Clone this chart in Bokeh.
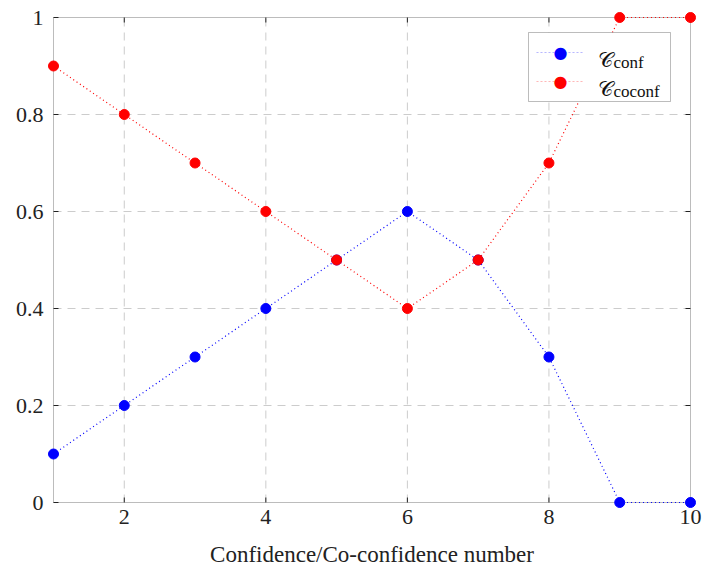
from bokeh.plotting import figure
from bokeh.models import (FixedTicker, CustomJSTickFormatter, Label,
                          BoxAnnotation, Range1d, ColumnDataSource)
from bokeh.embed import file_html
from bokeh.resources import INLINE

x = [1, 2, 3, 4, 5, 6, 7, 8, 9, 10]
c_conf = [0.1, 0.2, 0.3, 0.4, 0.5, 0.6, 0.5, 0.3, 0.0, 0.0]
c_coconf = [0.9, 0.8, 0.7, 0.6, 0.5, 0.4, 0.5, 0.7, 1.0, 1.0]
x_ticks = [2, 4, 6, 8, 10]
y_ticks = [0, 0.2, 0.4, 0.6, 0.8, 1.0]
x_label = "Confidence/Co-confidence number"
series = [("blue", "conf"), ("red", "coconf")]
x_lim = (1, 10)
y_lim = (0, 1)

FONT = "Liberation Serif"
TXT = "#222222"

# axis box in canvas pixels: x 53..690, y 17..502 ; frame padded by PAD so markers are not clipped
PAD = 6
BOX_W, BOX_H = 637, 485
ux = (x_lim[1] - x_lim[0]) / BOX_W   # data units per pixel
uy = (y_lim[1] - y_lim[0]) / BOX_H
TICK = 5

p = figure(width=702, height=571, output_backend="svg", toolbar_location=None,
           x_range=Range1d(x_lim[0] - PAD * ux, x_lim[1] + PAD * ux),
           y_range=Range1d(y_lim[0] - PAD * uy, y_lim[1] + PAD * uy),
           min_border_left=53 - PAD, min_border_right=12 - PAD,
           min_border_top=17 - PAD, min_border_bottom=69 - PAD)
p.outline_line_color = None
p.xgrid.visible = False
p.ygrid.visible = False

fmt = CustomJSTickFormatter(code="return String(+tick.toFixed(2));")

for ax, ticks in [(p.xaxis[0], x_ticks), (p.yaxis[0], y_ticks)]:
    ax.ticker = FixedTicker(ticks=ticks)
    ax.formatter = fmt
    ax.axis_line_color = None
    ax.major_tick_line_color = None
    ax.minor_tick_line_color = None
    ax.major_tick_in = 0
    ax.major_tick_out = 0
    ax.minor_tick_in = 0
    ax.minor_tick_out = 0
    ax.major_label_text_font = FONT
    ax.major_label_text_font_size = "22px"
    ax.major_label_text_color = TXT

p.xaxis[0].major_label_standoff = 1
p.yaxis[0].major_label_standoff = 4
p.xaxis[0].axis_label = x_label
p.xaxis[0].axis_label_text_font = FONT
p.xaxis[0].axis_label_text_font_size = "23px"
p.xaxis[0].axis_label_text_font_style = "normal"
p.xaxis[0].axis_label_text_color = TXT
p.xaxis[0].axis_label_standoff = 15

# axis box
p.add_layout(BoxAnnotation(left=x_lim[0], right=x_lim[1], bottom=y_lim[0], top=y_lim[1],
                           fill_alpha=0, line_color=TXT, line_width=1, level="underlay"))

# dashed grid lines restricted to the axis box
gx = [t for t in x_ticks if x_lim[0] < t < x_lim[1]]
gy = [t for t in y_ticks if y_lim[0] < t < y_lim[1]]
p.segment(x0=gx, y0=[y_lim[0]] * len(gx), x1=gx, y1=[y_lim[1]] * len(gx),
          line_color="#cccccc", line_dash="8 6", line_width=1)
p.segment(x0=[x_lim[0]] * len(gy), y0=gy, x1=[x_lim[1]] * len(gy), y1=gy,
          line_color="#cccccc", line_dash="8 6", line_width=1)

# inward ticks on all four sides
n = len(x_ticks)
for y0, y1 in [(y_lim[0], y_lim[0] + TICK * uy), (y_lim[1], y_lim[1] - TICK * uy)]:
    p.segment(x0=x_ticks, y0=[y0] * n, x1=x_ticks, y1=[y1] * n, line_color=TXT, line_width=1)
m = len(y_ticks)
for x0, x1 in [(x_lim[0], x_lim[0] + TICK * ux), (x_lim[1], x_lim[1] - TICK * ux)]:
    p.segment(x0=[x0] * m, y0=y_ticks, x1=[x1] * m, y1=y_ticks, line_color=TXT, line_width=1)

src = ColumnDataSource(dict(x=x, a=c_conf, b=c_coconf))
p.line("x", "a", source=src, line_color="blue", line_dash="1 3", line_width=1.2)
p.line("x", "b", source=src, line_color="red", line_dash="1 3", line_width=1.2)
p.scatter("x", "a", source=src, size=10, fill_color="blue", line_color="blue")
p.scatter("x", "b", source=src, size=10, fill_color="red", line_color="red")

# legend drawn in screen units (relative to frame: x from left, y up from bottom)
FB = 502 + PAD  # canvas y of frame bottom
FL = 53 - PAD   # canvas x of frame left
def sx(cx):
    return cx - FL
def sy(cy):
    return FB - cy

leg = BoxAnnotation(left_units="screen", right_units="screen", top_units="screen",
                    bottom_units="screen", left=sx(528), right=sx(670), top=sy(32), bottom=sy(101),
                    fill_color="white", fill_alpha=1, line_color=TXT, line_width=1,
                    level="overlay")
p.add_layout(leg)

for (color, sub), row in zip(series, [52, 81]):
    p.add_layout(BoxAnnotation(left_units="screen", right_units="screen", top_units="screen",
                               bottom_units="screen", left=sx(536), right=sx(583),
                               top=sy(row), bottom=sy(row),
                               fill_alpha=0, line_color=color, line_dash="1 3", line_width=1,
                               level="overlay"))
    p.add_layout(Label(x=sx(560), y=sy(row), x_units="screen", y_units="screen", text="\u25CF",
                       text_color=color, text_font_size="16px", text_align="center",
                       text_baseline="middle", text_font="DejaVu Sans", level="overlay"))
    p.add_layout(Label(x=sx(597), y=sy(row + 7), x_units="screen", y_units="screen",
                       text="\U0001D49E", text_color="#111111", text_font_size="21px",
                       text_font="DejaVu Sans", text_align="left", text_baseline="alphabetic",
                       level="overlay"))
    p.add_layout(Label(x=sx(613), y=sy(row + 10), x_units="screen", y_units="screen", text=sub,
                       text_color="#111111", text_font_size="17px", text_font=FONT,
                       text_align="left", text_baseline="alphabetic", level="overlay"))

open("out.html", "w").write(file_html(p, INLINE))
